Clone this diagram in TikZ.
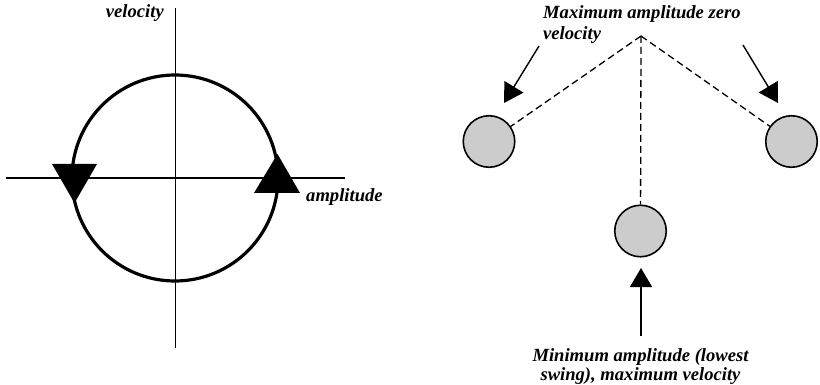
\documentclass[tikz,border=0pt]{standalone}
\usepackage{fontspec}
\setmainfont{Liberation Serif}
\usetikzlibrary{arrows.meta}
\definecolor{ballgray}{RGB}{204,204,204}
\begin{document}
\begin{tikzpicture}[x=1pt,y=-1pt,
  lbl/.style={font=\fontsize{18.6}{21}\selectfont\bfseries\itshape, inner sep=0pt},
  lblb/.style={font=\fontsize{18.6}{19}\selectfont\bfseries\itshape, inner sep=0pt},
  axisline/.style={line width=1.3pt},
  orbit/.style={line width=3.2pt},
  dirmark/.style={fill=black},
  ball/.style={circle, draw, line width=1.6pt, fill=ballgray, minimum size=51.5pt, inner sep=0pt},
  swing/.style={dash pattern=on 7pt off 4pt, line width=1.3pt},
  pointer/.style={line width=1.4pt, -{Triangle[length=19pt,width=22pt]}}
]
\useasboundingbox (0,0) rectangle (820,385);

% ---- phase diagram ----
\coordinate (vtop) at (175.5,8);
\coordinate (vbot) at (175.5,348);
\coordinate (hleft) at (6,178);
\coordinate (hright) at (345,178);
\draw[axisline] (vtop) -- (vbot);
\draw[axisline] (hleft) -- (hright);
\node[circle, draw, orbit, minimum size=206pt, inner sep=0pt] (orb) at (175,178) {};
\fill[dirmark] (277.5,154) -- (300,193) -- (254,193) -- cycle;
\fill[dirmark] (74.5,203) -- (52,164) -- (97,164) -- cycle;
\node[lbl, anchor=base east] (vlab) at (164,18) {velocity};
\node[lbl, anchor=base west] (alab) at (306,202) {amplitude};

% ---- pendulum ----
\coordinate (pivot) at (641,36);
\node[ball] (bl) at (489,141.5) {};
\node[ball] (br) at (791.5,141.5) {};
\node[ball] (bm) at (640.5,231) {};
\draw[swing] (pivot) -- (bl);
\draw[swing] (pivot) -- (br);
\draw[swing] (pivot) -- (bm);

\node[lbl, anchor=north west, align=left] (toptext) at (543,5.2) {Maximum amplitude zero\\velocity};
\node[lblb, anchor=north, align=center] (bottext) at (640.5,348.8) {Minimum amplitude (lowest\\swing), maximum velocity};

\coordinate (pl0) at (539,46);
\coordinate (pl1) at (504,103);
\coordinate (pr0) at (743,45);
\coordinate (pr1) at (778,103);
\coordinate (pb0) at (641,336);
\coordinate (pb1) at (641,268);
\draw[pointer] (pl0) -- (pl1);
\draw[pointer] (pr0) -- (pr1);
\draw[pointer] (pb0) -- (pb1);
\end{tikzpicture}
\end{document}
